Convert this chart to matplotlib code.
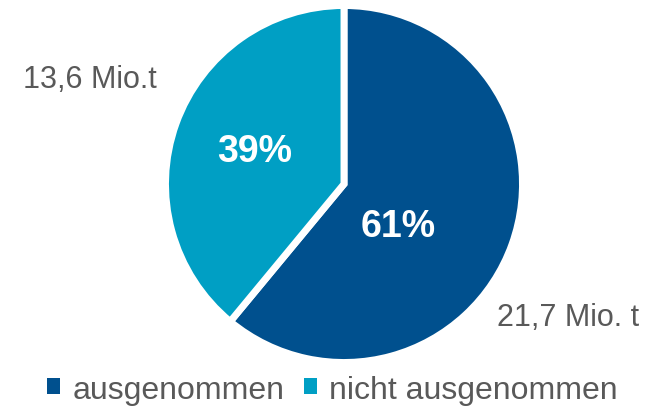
import matplotlib
matplotlib.use('Agg')
import matplotlib.pyplot as plt

plt.rcParams['font.family'] = ['Liberation Sans', 'DejaVu Sans']

# Daten
categories = ['ausgenommen', 'nicht ausgenommen']
shares = [61, 39]
amounts = ['21,7 Mio. t', '13,6 Mio.t']
colors = ['#00508E', '#009FC4']
grey = '#595959'

fig = plt.figure(figsize=(6.65, 4.1), dpi=100)
ax = fig.add_axes([169 / 665, 50 / 410, 350 / 665, 350 / 410])

wedges, _ = ax.pie(shares, colors=colors, startangle=90, counterclock=False,
                   radius=1.02, wedgeprops=dict(edgecolor='white', linewidth=5))
ax.set_xlim(-1, 1)
ax.set_ylim(-1, 1)
ax.set_aspect('equal')
ax.axis('off')

# Prozentwerte
ax.text(0.31, -0.24, f'{shares[0]}%', color='white', fontsize=27,
        fontweight='bold', ha='center', va='center')
ax.text(-0.51, 0.19, f'{shares[1]}%', color='white', fontsize=27,
        fontweight='bold', ha='center', va='center')

# Mengen
fig.text(497 / 665, 1 - 318 / 410, amounts[0], color=grey, fontsize=22,
         ha='left', va='center')
fig.text(157 / 665, 1 - 80 / 410, amounts[1], color=grey, fontsize=22,
         ha='right', va='center')

leg = fig.legend(wedges, categories, loc='lower center', ncol=2, frameon=False,
                 fontsize=23, bbox_to_anchor=(0.5, -0.06), handlelength=0.4,
                 handleheight=0.4, handletextpad=0.4, columnspacing=0.6)
for t in leg.get_texts():
    t.set_color(grey)
for h in leg.legend_handles:
    h.set_linewidth(0)

fig.savefig('out.png', dpi=100)
